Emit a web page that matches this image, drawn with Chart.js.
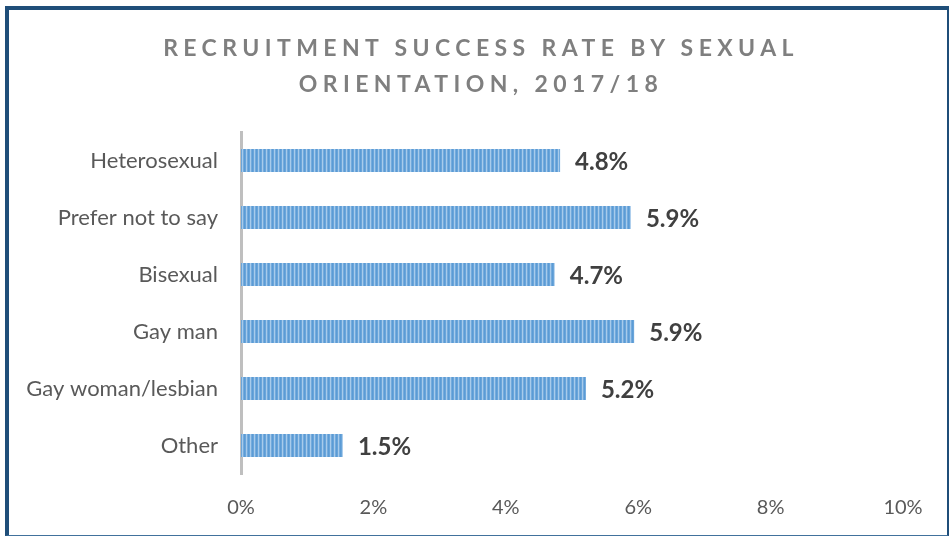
<!DOCTYPE html>
<html>
<head>
<meta charset="utf-8">
<script src="https://cdn.jsdelivr.net/npm/chart.js@4/dist/chart.umd.min.js"></script>
<style>
  html, body { margin: 0; padding: 0; background: #fff; }
  #wrap { position: relative; width: 951px; height: 536px; overflow: hidden; }
  #frame {
    position: absolute; left: 5px; top: 6px; width: 938px; height: 525px;
    border-left: 4px solid #1f4e79; border-top: 4px solid #1f4e79;
    border-right: 2px solid #1f4e79; border-bottom: 1px solid #41719c;
  }
  #title {
    position: absolute; left: 0; top: 29px; width: 962px; text-align: center;
    font-family: Lato, "Open Sans", sans-serif; font-weight: bold; font-size: 23px;
    letter-spacing: 5.4px; line-height: 36px; color: #7f7f7f;
  }
  canvas { position: absolute; left: 0; top: 0; }
</style>
</head>
<body>
<div id="wrap">
  <canvas id="chart" width="951" height="536"></canvas>
  <div id="frame"></div>
  <div id="title">RECRUITMENT SUCCESS RATE BY SEXUAL<br>ORIENTATION, 2017/18</div>
</div>
<script>
const categories = ["Heterosexual", "Prefer not to say", "Bisexual", "Gay man", "Gay woman/lesbian", "Other"];
const successRate = [4.82, 5.89, 4.74, 5.94, 5.21, 1.54];
const xTicks = [0, 2, 4, 6, 8, 10];

// vertical-stripe fill, like the original bars
function stripePattern(ctx) {
  const c = document.createElement("canvas");
  c.width = 4; c.height = 1;
  const p = c.getContext("2d");
  ["#5b9bd5", "#6aa5da", "#a8cbeb", "#74abdd"].forEach((col, i) => {
    p.fillStyle = col; p.fillRect(i, 0, 1, 1);
  });
  return ctx.createPattern(c, "repeat");
}

const valueLabels = {
  id: "valueLabels",
  afterDatasetsDraw(chart) {
    const { ctx } = chart;
    const meta = chart.getDatasetMeta(0);
    ctx.save();
    ctx.font = "bold 24px Lato, 'Open Sans', sans-serif";
    ctx.fillStyle = "#404040";
    ctx.textBaseline = "middle";
    meta.data.forEach((bar, i) => {
      ctx.fillText(successRate[i].toFixed(1) + "%", bar.x + 15, bar.y + 2);
    });
    ctx.restore();
  }
};

const canvas = document.getElementById("chart");
new Chart(canvas, {
  type: "bar",
  data: {
    labels: categories,
    datasets: [{
      data: successRate,
      backgroundColor: stripePattern(canvas.getContext("2d")),
      borderWidth: 0,
      categoryPercentage: 0.4,
      barPercentage: 1,
    }],
  },
  options: {
    indexAxis: "y",
    responsive: false,
    animation: false,
    events: [],
    layout: { padding: { top: 132, right: 48, bottom: 2, left: 0 } },
    plugins: { legend: { display: false }, tooltip: { enabled: false } },
    scales: {
      x: {
        min: 0, max: 10,
        afterBuildTicks: s => { s.ticks = xTicks.map(v => ({ value: v })); },
        ticks: { color: "#595959", font: { family: "Lato", size: 20 }, padding: 14, callback: v => v + "%" },
        grid: { display: false },
        border: { display: false },
      },
      y: {
        afterFit: s => { s.width = 241; },
        ticks: { color: "#595959", font: { family: "Lato", size: 22 }, padding: 15 },
        grid: { display: false },
        border: { color: "#bfbfbf", width: 3 },
      },
    },
  },
  plugins: [valueLabels],
});
</script>
</body>
</html>
